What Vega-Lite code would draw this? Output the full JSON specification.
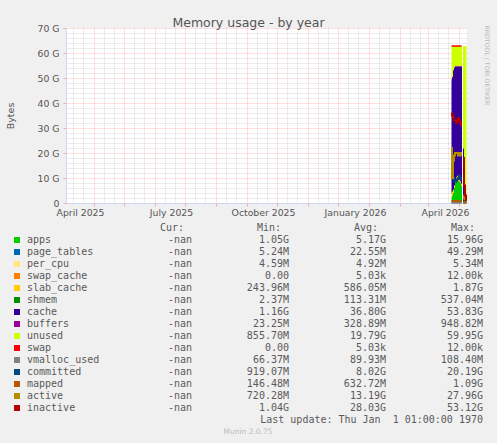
{
  "$schema": "https://vega.github.io/schema/vega-lite/v6.json",
  "width": 401,
  "height": 175,
  "autosize": "none",
  "padding": {"left": 66, "top": 28, "right": 30, "bottom": 240},
  "background": "#f0f0f0",
  "view": {"fill": "#ffffff", "stroke": null},
  "config": {"font": "DejaVu Sans"},
  "title": {"text": "Memory usage - by year", "fontSize": 12.5, "fontWeight": "normal", "color": "#555555", "font": "DejaVu Sans", "anchor": "middle", "frame": "group", "dx": -18, "dy": 21, "baseline": "alphabetic", "offset": 6},
  "datasets": {
    "mem": [
      {"date": "2026-03-24T12:00", "apps": 2.2, "page_tables": 0.03, "per_cpu": 0.005, "swap_cache": 0.00001, "slab_cache": 1.6, "shmem": 0.4, "cache": 44.8, "buffers": 0.6, "unused": 13.2, "swap": 0.00001, "vmalloc_used": 0.09, "committed": 14, "mapped": 0.8, "active": 22, "inactive": 36},
      {"date": "2026-03-25T12:00", "apps": 3.0, "page_tables": 0.03, "per_cpu": 0.005, "swap_cache": 0.00001, "slab_cache": 1.4, "shmem": 0.3, "cache": 45.3, "buffers": 0.5, "unused": 12.3, "swap": 0.00001, "vmalloc_used": 0.09, "committed": 11, "mapped": 0.8, "active": 10, "inactive": 35},
      {"date": "2026-03-26T12:00", "apps": 4.0, "page_tables": 0.03, "per_cpu": 0.005, "swap_cache": 0.00001, "slab_cache": 1.2, "shmem": 0.2, "cache": 47.6, "buffers": 0.4, "unused": 9.4, "swap": 0.00001, "vmalloc_used": 0.09, "committed": 10, "mapped": 0.8, "active": 17, "inactive": 34},
      {"date": "2026-03-27T12:00", "apps": 6.0, "page_tables": 0.03, "per_cpu": 0.005, "swap_cache": 0.00001, "slab_cache": 1.0, "shmem": 0.15, "cache": 46.8, "buffers": 0.35, "unused": 8.45, "swap": 0.00001, "vmalloc_used": 0.09, "committed": 9, "mapped": 0.8, "active": 19, "inactive": 33},
      {"date": "2026-03-28T12:00", "apps": 8.0, "page_tables": 0.03, "per_cpu": 0.005, "swap_cache": 0.00001, "slab_cache": 0.9, "shmem": 0.12, "cache": 45.4, "buffers": 0.3, "unused": 8.0, "swap": 0.00001, "vmalloc_used": 0.09, "committed": 8.5, "mapped": 0.8, "active": 20, "inactive": 33},
      {"date": "2026-03-29T12:00", "apps": 9.5, "page_tables": 0.03, "per_cpu": 0.005, "swap_cache": 0.00001, "slab_cache": 0.8, "shmem": 0.1, "cache": 44.1, "buffers": 0.3, "unused": 8.0, "swap": 0.00001, "vmalloc_used": 0.09, "committed": 9, "mapped": 0.8, "active": 20, "inactive": 32},
      {"date": "2026-03-30T12:00", "apps": 10.0, "page_tables": 0.03, "per_cpu": 0.005, "swap_cache": 0.00001, "slab_cache": 0.8, "shmem": 0.1, "cache": 43.6, "buffers": 0.3, "unused": 8.0, "swap": 0.00001, "vmalloc_used": 0.09, "committed": 9.5, "mapped": 0.8, "active": 20, "inactive": 33},
      {"date": "2026-03-31T12:00", "apps": 9.0, "page_tables": 0.03, "per_cpu": 0.005, "swap_cache": 0.00001, "slab_cache": 0.7, "shmem": 0.1, "cache": 44.7, "buffers": 0.3, "unused": 8.0, "swap": 0.00001, "vmalloc_used": 0.09, "committed": 10, "mapped": 0.8, "active": 19, "inactive": 34},
      {"date": "2026-04-01T12:00", "apps": 8.5, "page_tables": 0.03, "per_cpu": 0.005, "swap_cache": 0.00001, "slab_cache": 0.7, "shmem": 0.1, "cache": 45.2, "buffers": 0.3, "unused": 8.0, "swap": 0.00001, "vmalloc_used": 0.09, "committed": 11, "mapped": 0.8, "active": 19, "inactive": 33},
      {"date": "2026-04-02T12:00", "apps": 8.0, "page_tables": 0.03, "per_cpu": 0.005, "swap_cache": 0.00001, "slab_cache": 0.6, "shmem": 0.1, "cache": 45.8, "buffers": 0.3, "unused": 8.0, "swap": 0.00001, "vmalloc_used": 0.09, "committed": 10, "mapped": 0.8, "active": 20, "inactive": 32},
      {"date": "2026-04-03T12:00", "apps": 7.0, "page_tables": 0.03, "per_cpu": 0.005, "swap_cache": 0.00001, "slab_cache": 0.6, "shmem": 0.1, "cache": 46.8, "buffers": 0.3, "unused": 8.0, "swap": 0.00001, "vmalloc_used": 0.09, "committed": 9.5, "mapped": 0.8, "active": 19, "inactive": 31},
      {"date": "2026-04-04T12:00", "apps": null, "page_tables": null, "per_cpu": null, "swap_cache": null, "slab_cache": null, "shmem": null, "cache": null, "buffers": null, "unused": null, "swap": null, "vmalloc_used": null, "committed": null, "mapped": null, "active": null, "inactive": null},
      {"date": "2026-04-05T12:00", "apps": 1.5, "page_tables": 0.01, "per_cpu": 0.005, "swap_cache": 0, "slab_cache": 0.3, "shmem": 0.01, "cache": 20, "buffers": 0.05, "unused": 40.9, "swap": null, "vmalloc_used": 0.07, "committed": 1.5, "mapped": 0.3, "active": 3, "inactive": 18},
      {"date": "2026-04-06T12:00", "apps": 1.3, "page_tables": 0.01, "per_cpu": 0.005, "swap_cache": 0, "slab_cache": 0.28, "shmem": 0.01, "cache": 8, "buffers": 0.04, "unused": 53.1, "swap": null, "vmalloc_used": 0.07, "committed": 1.0, "mapped": 0.25, "active": 2, "inactive": 7},
      {"date": "2026-04-07T12:00", "apps": 1.1, "page_tables": 0.01, "per_cpu": 0.005, "swap_cache": 0, "slab_cache": 0.25, "shmem": 0.01, "cache": 3, "buffers": 0.03, "unused": 58.4, "swap": null, "vmalloc_used": 0.07, "committed": 1.2, "mapped": 0.2, "active": 1.5, "inactive": 3},
      {"date": "2026-04-08T12:00", "apps": 1.05, "page_tables": 0.01, "per_cpu": 0.005, "swap_cache": 0, "slab_cache": 0.25, "shmem": 0.01, "cache": 1.5, "buffers": 0.03, "unused": 59.9, "swap": null, "vmalloc_used": 0.07, "committed": 1.4, "mapped": 0.2, "active": 1.2, "inactive": 1.1}
    ],
    "legend": [
      {"name": "apps", "Cur:": "-nan", "Min:": "1.05G", "Avg:": "5.17G", "Max:": "15.96G"},
      {"name": "page_tables", "Cur:": "-nan", "Min:": "5.24M", "Avg:": "22.55M", "Max:": "49.29M"},
      {"name": "per_cpu", "Cur:": "-nan", "Min:": "4.59M", "Avg:": "4.92M", "Max:": "5.34M"},
      {"name": "swap_cache", "Cur:": "-nan", "Min:": "0.00", "Avg:": "5.03k", "Max:": "12.00k"},
      {"name": "slab_cache", "Cur:": "-nan", "Min:": "243.96M", "Avg:": "586.05M", "Max:": "1.87G"},
      {"name": "shmem", "Cur:": "-nan", "Min:": "2.37M", "Avg:": "113.31M", "Max:": "537.04M"},
      {"name": "cache", "Cur:": "-nan", "Min:": "1.16G", "Avg:": "36.80G", "Max:": "53.83G"},
      {"name": "buffers", "Cur:": "-nan", "Min:": "23.25M", "Avg:": "328.89M", "Max:": "948.82M"},
      {"name": "unused", "Cur:": "-nan", "Min:": "855.70M", "Avg:": "19.79G", "Max:": "59.95G"},
      {"name": "swap", "Cur:": "-nan", "Min:": "0.00", "Avg:": "5.03k", "Max:": "12.00k"},
      {"name": "vmalloc_used", "Cur:": "-nan", "Min:": "66.37M", "Avg:": "89.93M", "Max:": "108.40M"},
      {"name": "committed", "Cur:": "-nan", "Min:": "919.07M", "Avg:": "8.02G", "Max:": "20.19G"},
      {"name": "mapped", "Cur:": "-nan", "Min:": "146.48M", "Avg:": "632.72M", "Max:": "1.09G"},
      {"name": "active", "Cur:": "-nan", "Min:": "720.28M", "Avg:": "13.19G", "Max:": "27.96G"},
      {"name": "inactive", "Cur:": "-nan", "Min:": "1.04G", "Avg:": "28.03G", "Max:": "53.12G"}
    ]
  },
  "layer": [
    {
      "data": {"name": "mem"},
      "transform": [
        {"fold": ["apps", "page_tables", "per_cpu", "swap_cache", "slab_cache", "shmem", "cache", "buffers", "unused", "swap"], "as": ["series", "value"]},
        {"window": [{"op": "row_number", "as": "k"}], "groupby": ["date"]},
        {"stack": "value", "groupby": ["date"], "sort": [{"field": "k", "order": "ascending"}], "as": ["v0", "v1"], "offset": "zero"}
      ],
      "mark": {"type": "area", "interpolate": "step"},
      "encoding": {
        "x": {
          "field": "date", "type": "temporal",
          "scale": {"domain": [{"year": 2025, "month": 3, "date": 4}, {"year": 2026, "month": 4, "date": 9}]},
          "axis": {
            "values": [
              {"year": 2025, "month": 4, "date": 1}, {"year": 2025, "month": 5, "date": 1}, {"year": 2025, "month": 6, "date": 1},
              {"year": 2025, "month": 7, "date": 1}, {"year": 2025, "month": 8, "date": 1}, {"year": 2025, "month": 9, "date": 1},
              {"year": 2025, "month": 10, "date": 1}, {"year": 2025, "month": 11, "date": 1}, {"year": 2025, "month": 12, "date": 1},
              {"year": 2026, "month": 1, "date": 1}, {"year": 2026, "month": 2, "date": 1}, {"year": 2026, "month": 3, "date": 1},
              {"year": 2026, "month": 4, "date": 1}
            ],
            "labelExpr": "month(datum.value) % 3 == 0 ? timeFormat(datum.value, '%B %Y') : ''",
            "labelOffset": -14, "labelPadding": 2, "labelFontSize": 9.3, "labelColor": "#555555", "labelFont": "DejaVu Sans",
            "labelOverlap": false, "labelFlush": false, "labelBound": false,
            "grid": true, "gridColor": "#ff0000", "gridOpacity": 0.25, "gridDash": [1, 1],
            "tickSize": 3, "tickColor": "#ff0000", "tickOpacity": 0.3,
            "domainColor": "#cfd6f8", "title": null
          }
        },
        "y": {
          "field": "v1", "type": "quantitative",
          "scale": {"domain": [0, 70], "nice": false, "zero": true},
          "axis": {
            "values": [0, 10, 20, 30, 40, 50, 60, 70],
            "labelExpr": "datum.value == 0 ? '0' : datum.value + ' G'",
            "labelPadding": 4, "labelFontSize": 9.3, "labelColor": "#555555", "labelFont": "DejaVu Sans",
            "grid": true, "gridColor": "#ff0000", "gridOpacity": 0.25, "gridDash": [1, 1],
            "tickSize": 3, "tickColor": "#ff0000", "tickOpacity": 0.3,
            "domainColor": "#cfd6f8",
            "title": "Bytes", "titleFontSize": 9.5, "titleFontWeight": "normal", "titleColor": "#555555", "titleFont": "DejaVu Sans", "titlePadding": 22
          }
        },
        "y2": {"field": "v0"},
        "color": {
          "field": "series", "type": "nominal", "legend": null,
          "scale": {
            "domain": ["apps", "page_tables", "per_cpu", "swap_cache", "slab_cache", "shmem", "cache", "buffers", "unused", "swap", "vmalloc_used", "committed", "mapped", "active", "inactive"],
            "range": ["#00CC00", "#0066B3", "#FFE680", "#FF8000", "#FFCC00", "#008F00", "#330099", "#990099", "#CCFF00", "#FF0000", "#808080", "#00487D", "#B35A00", "#B38F00", "#B30000"]
          }
        }
      }
    },
    {
      "data": {"name": "mem"},
      "transform": [
        {"fold": ["apps", "page_tables", "per_cpu", "swap_cache", "slab_cache", "shmem", "cache", "buffers", "unused", "swap"], "as": ["series", "value"]},
        {"window": [{"op": "row_number", "as": "k"}], "groupby": ["date"]},
        {"stack": "value", "groupby": ["date"], "sort": [{"field": "k", "order": "ascending"}], "as": ["v0", "v1"], "offset": "zero"},
        {"filter": "datum.series === 'swap' && datum.value != null"}
      ],
      "mark": {"type": "line", "interpolate": "step", "color": "#FF0000", "strokeWidth": 1.5},
      "encoding": {
        "x": {"field": "date", "type": "temporal", "scale": {"domain": [{"year": 2025, "month": 3, "date": 4}, {"year": 2026, "month": 4, "date": 9}]}, "axis": null},
        "y": {"field": "v1", "type": "quantitative", "scale": {"domain": [0, 70], "nice": false}, "axis": null}
      }
    },
    {
      "data": {"name": "mem"},
      "transform": [
        {"fold": ["vmalloc_used", "committed", "mapped", "active", "inactive"], "as": ["series", "value"]}
      ],
      "mark": {"type": "line", "interpolate": "step", "strokeWidth": 2, "invalid": "break-paths-show-domains"},
      "encoding": {
        "x": {
          "field": "date", "type": "temporal",
          "scale": {"domain": [{"year": 2025, "month": 3, "date": 4}, {"year": 2026, "month": 4, "date": 9}]},
          "axis": {
            "orient": "top",
            "values": [
              {"year": 2025, "month": 3, "date": 11}, {"year": 2025, "month": 3, "date": 21},
              {"year": 2025, "month": 4, "date": 11}, {"year": 2025, "month": 4, "date": 21},
              {"year": 2025, "month": 5, "date": 11}, {"year": 2025, "month": 5, "date": 21},
              {"year": 2025, "month": 6, "date": 11}, {"year": 2025, "month": 6, "date": 21},
              {"year": 2025, "month": 7, "date": 11}, {"year": 2025, "month": 7, "date": 21},
              {"year": 2025, "month": 8, "date": 11}, {"year": 2025, "month": 8, "date": 21},
              {"year": 2025, "month": 9, "date": 11}, {"year": 2025, "month": 9, "date": 21},
              {"year": 2025, "month": 10, "date": 11}, {"year": 2025, "month": 10, "date": 21},
              {"year": 2025, "month": 11, "date": 11}, {"year": 2025, "month": 11, "date": 21},
              {"year": 2025, "month": 12, "date": 11}, {"year": 2025, "month": 12, "date": 21},
              {"year": 2026, "month": 1, "date": 11}, {"year": 2026, "month": 1, "date": 21},
              {"year": 2026, "month": 2, "date": 11}, {"year": 2026, "month": 2, "date": 21},
              {"year": 2026, "month": 3, "date": 11}, {"year": 2026, "month": 3, "date": 21}
            ],
            "grid": true, "gridColor": "#a0a0a0", "gridOpacity": 0.4, "gridDash": [1, 1],
            "labels": false, "ticks": false, "domain": false, "title": null
          }
        },
        "y": {
          "field": "value", "type": "quantitative",
          "scale": {"domain": [0, 70], "nice": false},
          "axis": {
            "orient": "right",
            "values": [2, 4, 6, 8, 12, 14, 16, 18, 22, 24, 26, 28, 32, 34, 36, 38, 42, 44, 46, 48, 52, 54, 56, 58, 62, 64, 66, 68],
            "grid": true, "gridColor": "#a0a0a0", "gridOpacity": 0.4, "gridDash": [1, 1],
            "labels": false, "ticks": false, "domain": false,
            "title": "RRDTOOL / TOBI OETIKER", "titleAngle": 90, "titleFontSize": 6.2, "titleFontWeight": "normal", "titleColor": "#bbbbbb", "titleFont": "DejaVu Sans",
            "titlePadding": 16, "titleAnchor": "end", "titleAlign": "left", "titleY": -3
          }
        },
        "color": {
          "field": "series", "type": "nominal", "legend": null,
          "scale": {
            "domain": ["apps", "page_tables", "per_cpu", "swap_cache", "slab_cache", "shmem", "cache", "buffers", "unused", "swap", "vmalloc_used", "committed", "mapped", "active", "inactive"],
            "range": ["#00CC00", "#0066B3", "#FFE680", "#FF8000", "#FFCC00", "#008F00", "#330099", "#990099", "#CCFF00", "#FF0000", "#808080", "#00487D", "#B35A00", "#B38F00", "#B30000"]
          }
        }
      }
    },
    {
      "data": {"name": "legend"},
      "layer": [
        {
          "data": {"values": [{"col": "Cur:"}, {"col": "Min:"}, {"col": "Avg:"}, {"col": "Max:"}]},
          "mark": {"type": "text", "align": "right", "baseline": "middle", "dx": -8, "font": "DejaVu Sans Mono", "fontSize": 10, "color": "#5a5a5a"},
          "encoding": {
            "x": {"field": "col", "type": "nominal", "axis": null},
            "y": {"datum": "hdr", "type": "nominal", "axis": null},
            "text": {"field": "col"}
          }
        },
        {
          "transform": [{"fold": ["Cur:", "Min:", "Avg:", "Max:"], "as": ["col", "val"]}],
          "mark": {"type": "text", "align": "right", "baseline": "middle", "font": "DejaVu Sans Mono", "fontSize": 10, "color": "#5a5a5a"},
          "encoding": {
            "x": {"field": "col", "type": "nominal", "axis": null},
            "y": {"field": "name", "type": "nominal", "axis": null},
            "text": {"field": "val"}
          }
        },
        {
          "mark": {"type": "text", "align": "left", "baseline": "middle", "dx": -165, "font": "DejaVu Sans Mono", "fontSize": 10, "color": "#5a5a5a"},
          "encoding": {
            "x": {"datum": "Cur:", "type": "nominal", "axis": null},
            "y": {"field": "name", "type": "nominal", "axis": null},
            "text": {"field": "name"}
          }
        },
        {
          "mark": {"type": "square", "size": 36, "opacity": 1},
          "encoding": {
            "x": {"datum": "Cur:", "type": "nominal", "axis": null},
            "xOffset": {"value": -175},
            "y": {"field": "name", "type": "nominal", "axis": null},
            "color": {
              "field": "name", "type": "nominal", "legend": null,
              "scale": {
                "domain": ["apps", "page_tables", "per_cpu", "swap_cache", "slab_cache", "shmem", "cache", "buffers", "unused", "swap", "vmalloc_used", "committed", "mapped", "active", "inactive"],
                "range": ["#00CC00", "#0066B3", "#FFE680", "#FF8000", "#FFCC00", "#008F00", "#330099", "#990099", "#CCFF00", "#FF0000", "#808080", "#00487D", "#B35A00", "#B38F00", "#B30000"]
              }
            }
          }
        },
        {
          "data": {"values": [{"note": "Last update: Thu Jan \u00a01 01:00:00 1970"}]},
          "mark": {"type": "text", "align": "right", "baseline": "middle", "font": "DejaVu Sans Mono", "fontSize": 10, "color": "#5a5a5a"},
          "encoding": {
            "x": {"datum": "Max:", "type": "nominal", "axis": null},
            "y": {"datum": "upd", "type": "nominal", "axis": null},
            "text": {"field": "note"}
          }
        },
        {
          "data": {"values": [{"note": "Munin 2.0.75"}]},
          "mark": {"type": "text", "align": "center", "baseline": "middle", "dx": -41, "font": "DejaVu Sans", "fontSize": 7.5, "color": "#bbbbbb"},
          "encoding": {
            "x": {"datum": "Min:", "type": "nominal", "axis": null},
            "y": {"datum": "munin", "type": "nominal", "axis": null},
            "text": {"field": "note"}
          }
        }
      ],
      "encoding": {
        "x": {"scale": {"type": "point", "domain": ["Cur:", "Min:", "Avg:", "Max:"], "range": [126, 417], "padding": 0}},
        "y": {"scale": {"type": "point", "domain": ["hdr", "apps", "page_tables", "per_cpu", "swap_cache", "slab_cache", "shmem", "cache", "buffers", "unused", "swap", "vmalloc_used", "committed", "mapped", "active", "inactive", "upd", "munin"], "range": [200, 404], "padding": 0}}
      },
      "resolve": {"scale": {"x": "shared", "y": "shared", "color": "independent"}}
    }
  ],
  "resolve": {"scale": {"x": "independent", "y": "independent", "color": "independent"}}
}
